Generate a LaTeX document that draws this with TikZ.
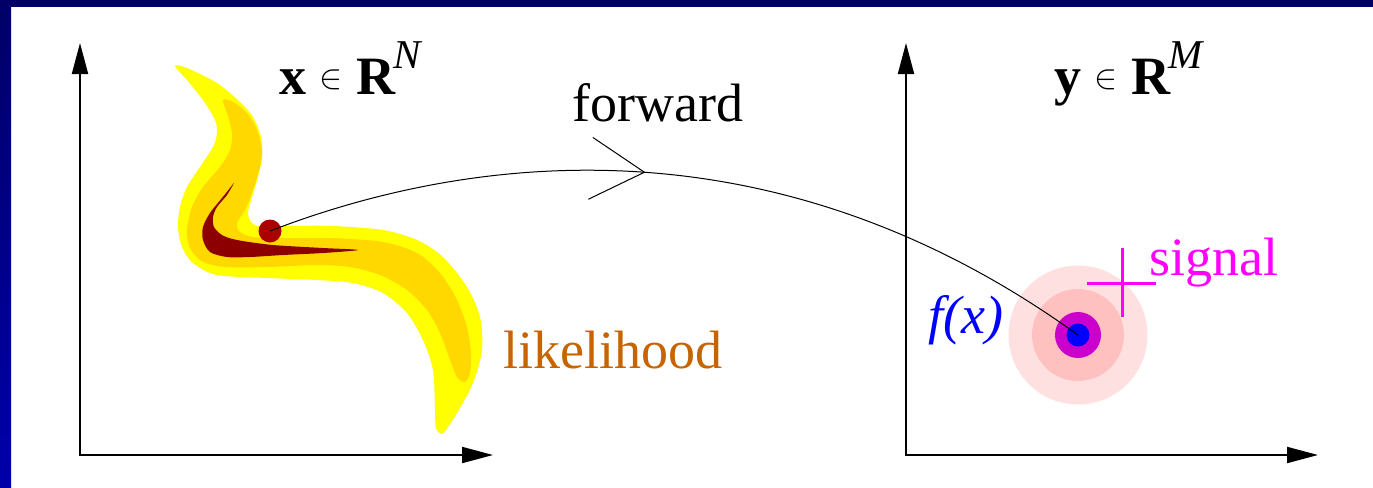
\documentclass[tikz,border=0pt]{standalone}
\usepackage{fontspec}
\setmainfont{LiberationSerif}[
    Extension=.ttf,
    UprightFont=*-Regular,
    BoldFont=*-Bold,
    ItalicFont=*-Italic,
    BoldItalicFont=*-BoldItalic]
\usetikzlibrary{arrows.meta, decorations.markings}

\definecolor{framenavy}{HTML}{000066}
\definecolor{frameblue}{HTML}{0000AA}
\definecolor{likeyellow}{HTML}{FFFF00}
\definecolor{likegold}{HTML}{FFD800}
\definecolor{likered}{HTML}{8C0000}
\definecolor{dotred}{HTML}{AA0000}
\definecolor{likebrown}{HTML}{C86400}
\definecolor{ringlight}{HTML}{FFE0E0}
\definecolor{ringpink}{HTML}{FFC0C0}
\definecolor{ringpurple}{HTML}{CC00CC}
\definecolor{sigmagenta}{HTML}{FF00FF}
\definecolor{fxblue}{HTML}{0000FF}

\begin{document}
\begin{tikzpicture}[
    x=0.5pt, y=-0.5pt,
    font=\fontsize{27}{32}\selectfont,
    axis/.style={
        line width=1pt,
        {Triangle[length=15.5pt, width=8pt]}-{Triangle[length=15.5pt, width=8pt]}
    },
    txt/.style={anchor=base west, inner sep=0pt},
    dot/.style={circle, inner sep=0pt, draw=none},
    fwd/.style={
        line width=0.5pt, postaction={decorate},
        decoration={markings, mark=at position 0.45 with
            {\arrow{Straight Barb[length=27pt, width=31pt]}}}
    },
    crossmark/.style={draw=sigmagenta, line width=1.5pt}
]

\useasboundingbox (0,0) rectangle (1373,488);
\fill[white] (0,0) rectangle (1373,488);

% 1. FRAME
\shade[top color=framenavy, bottom color=frameblue] (0,0) rectangle (11,488);
\fill[framenavy] (0,0) rectangle (1373,7);

% 2. LEFT PANEL: x space and likelihood
\coordinate (xo) at (80,455);
\coordinate (xv) at (80,43);
\coordinate (xh) at (493,455);
\draw[axis] (xv) -- (xo) -- (xh);

\fill[likeyellow] plot[smooth cycle] coordinates {
    (175,66) (187,68) (217,83) (240,102) (253,117) (261,137) (262,157)
    (258,177) (252,197) (248,213) (252,223) (262,227) (290,226) (333,226)
    (383,230) (417,240) (443,257) (467,287) (480,317) (482,350) (473,383)
    (457,413) (443,433) (436,428) (435,410) (433,370) (423,340) (407,313)
    (383,293) (353,283) (317,280) (267,278) (217,275) (193,263) (182,247)
    (178,227) (180,207) (187,187) (200,167) (213,147) (217,133) (215,120)
    (203,100) (187,80)};
\fill[likegold] plot[smooth cycle] coordinates {
    (223,100) (233,102) (247,113) (257,130) (262,150) (260,167) (253,190)
    (245,210) (237,223) (240,232) (253,237) (283,238) (333,238) (383,242)
    (417,253) (440,273) (457,300) (467,327) (471,353) (470,373) (465,382)
    (457,377) (450,360) (440,333) (427,310) (407,290) (380,275) (350,267)
    (317,265) (267,267) (227,267) (203,262) (190,248) (187,230) (192,207)
    (203,187) (220,167) (230,150) (232,133) (227,113)};
\fill[likered] plot[smooth cycle] coordinates {
    (234,183) (227,195) (217,207) (213,217) (214,227) (222,235) (237,240)
    (273,245) (323,248) (358,250) (323,253) (283,255) (250,257) (227,257)
    (210,252) (203,240) (203,227) (210,213) (222,198) (230,188)};

\node[dot, fill=dotred, minimum size=11.5pt] (xdot) at (270,231) {};

\node[txt] (xspace) at (279,94)
    {\textbf{x} \raisebox{3pt}{$\scriptstyle\in$} \textbf{R}\kern-1pt\raisebox{13pt}{\fontsize{20.5}{24}\selectfont\itshape N}};
\node[txt, text=likebrown] (like) at (503,368) {likelihood};

% 3. RIGHT PANEL: y space, prediction and signal
\coordinate (yo) at (906,455);
\coordinate (yv) at (906,43);
\coordinate (yh) at (1318,455);
\draw[axis] (yv) -- (yo) -- (yh);

\node[dot, fill=ringlight, minimum size=69.5pt] (ring3) at (1078,335) {};
\node[dot, fill=ringpink, minimum size=46pt] (ring2) at (1078,335) {};
\node[dot, fill=ringpurple, minimum size=23pt] (ring1) at (1078,335) {};
\node[dot, fill=fxblue, minimum size=11.5pt] (ydot) at (1078,335) {};

\draw[crossmark] (1087,283) -- (1156,283) (1122,248) -- (1122,317);

\node[txt] (yspace) at (1054,94)
    {\textbf{y} \raisebox{3pt}{$\scriptstyle\in$} \textbf{R}\kern-1pt\raisebox{13pt}{\fontsize{20.5}{24}\selectfont\itshape M}};
\node[txt, text=sigmagenta] (sig) at (1149,275) {signal};
\node[txt, text=fxblue] (fx) at (928,333) {\itshape f(x)};

% 4. FORWARD MAP
\draw[fwd] (xdot.center) .. controls (480,150) and (780,120) .. (ydot.center);
\node[txt] (fwdlab) at (572,121) {forward};

\end{tikzpicture}
\end{document}
